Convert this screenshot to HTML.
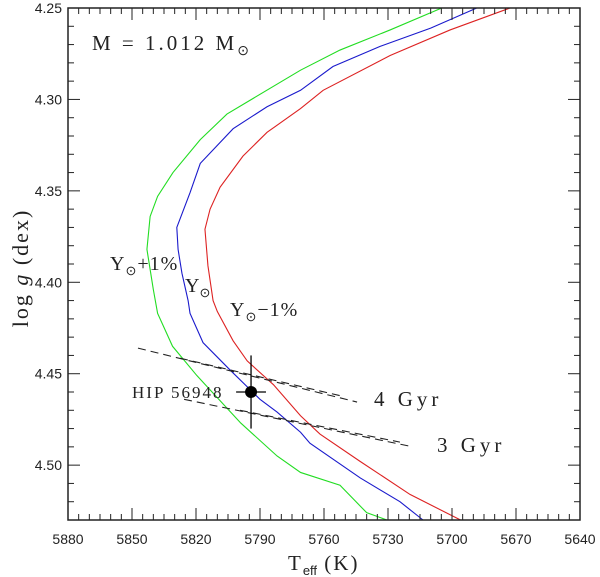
<!DOCTYPE html>
<html><head><meta charset="utf-8"><style>
body{margin:0;background:#fff}
svg{display:block}
.tk{font-family:"Liberation Sans",sans-serif;font-size:14px;fill:#222}
.sr{font-family:"Liberation Serif",serif;fill:#222}
</style></head><body>
<svg id="chart" width="600" height="577" viewBox="0 0 600 577" xmlns="http://www.w3.org/2000/svg">
<g id="curves"></g>
<g id="iso"></g>
<g id="axes"></g>
<text class="sr" x="92" y="50" font-size="21" letter-spacing="3">M = 1.012 M<tspan font-size="14" dy="5">⊙</tspan></text>
<text class="sr" x="110" y="270" font-size="20" letter-spacing="1">Y<tspan font-size="13" dy="5">⊙</tspan><tspan dy="-5">+1%</tspan></text>
<text class="sr" x="185" y="292" font-size="20">Y<tspan font-size="13" dy="5">⊙</tspan></text>
<text class="sr" x="230" y="316" font-size="20" letter-spacing="1">Y<tspan font-size="13" dy="5">⊙</tspan><tspan dy="-5">−1%</tspan></text>
<text class="sr" x="132" y="398" font-size="17" letter-spacing="2">HIP 56948</text>
<text class="sr" x="374" y="406" font-size="21" letter-spacing="4">4 Gyr</text>
<text class="sr" x="437" y="452" font-size="21" letter-spacing="4">3 Gyr</text>
<text class="sr" x="288" y="570" font-size="21" letter-spacing="2">T<tspan font-size="13" dy="5" font-family="Liberation Sans" letter-spacing="0">eff</tspan><tspan dy="-5"> (K)</tspan></text>
<text class="sr" transform="translate(28,268) rotate(-90)" text-anchor="middle" font-size="22" letter-spacing="2">log <tspan font-style="italic">g</tspan> (dex)</text>
</svg>
<script>
const xTicks=[5880,5850,5820,5790,5760,5730,5700,5670,5640];
const yTicks=[4.25,4.30,4.35,4.40,4.45,4.50];
const yTickLabels=["4.25","4.30","4.35","4.40","4.45","4.50"];
const greenT=[5704.8,5729,5752.5,5771,5805.5,5818,5830.8,5838,5841.5,5843,5840,5838,5831,5819.6,5799,5782,5771,5752.5,5740,5730.5];
const greenG=[4.25,4.262,4.273,4.284,4.308,4.322,4.340,4.353,4.364,4.382,4.404,4.417,4.435,4.451,4.477,4.495,4.504,4.511,4.526,4.53];
const blueT=[5688.4,5710,5733.7,5755.8,5771,5786.7,5802.6,5818,5822.8,5829,5828.4,5826.6,5823.7,5822.8,5816.7,5804,5790,5782,5771,5766.6,5743,5724.4,5713.6];
const blueG=[4.25,4.261,4.271,4.282,4.295,4.304,4.316,4.335,4.351,4.370,4.382,4.395,4.410,4.417,4.433,4.448,4.464,4.471,4.482,4.488,4.507,4.52,4.53];
const redT=[5672.8,5700.9,5729,5760.4,5771,5786.7,5798,5808.7,5813.4,5815.8,5814.4,5812,5810,5802.6,5796,5783.7,5771,5761.9,5743,5719.7,5696];
const redG=[4.25,4.262,4.276,4.295,4.305,4.318,4.331,4.348,4.360,4.371,4.391,4.41,4.416,4.432,4.443,4.456,4.473,4.483,4.498,4.516,4.53];
const isoT1=[5847.2,5827.5,5825.6,5799.4];
const isoG1=[4.436,4.4415,4.464,4.470];
const isoT2=[5744.5,5752.5,5718.3,5724.4];
const isoG2=[4.4655,4.462,4.490,4.4874];
const starT=[5794.2], starG=[4.46], starErrT=[7], starErrG=[0.02];
const L=68,R=580,T=8,B=520,X0=5880,X1=5640,Y0=4.25,Y1=4.53;
const xs=v=>L+(X0-v)/(X0-X1)*(R-L);
const ys=v=>T+(v-Y0)/(Y1-Y0)*(B-T);
const NS="http://www.w3.org/2000/svg";
function mk(tag,at,parent){const e=document.createElementNS(NS,tag);for(const k in at)e.setAttribute(k,at[k]);parent.appendChild(e);return e;}
const ax=document.getElementById('axes');
let fr=mk('rect',{x:L,y:T,width:R-L,height:B-T,fill:'none',stroke:'#222','stroke-width':1.5},ax);


for(let v=5880;v>=5640;v-=5){const x=xs(v);const big=(v%30===0);const len=big?12:6;
 mk('line',{x1:x,x2:x,y1:B,y2:B-len,stroke:'#222','stroke-width':1},ax);
 mk('line',{x1:x,x2:x,y1:T,y2:T+len,stroke:'#222','stroke-width':1},ax);}
for(let i=0;i<=28;i++){const v=4.25+i*0.01;const y=ys(v);const len=(i%5===0)?12:6;
 mk('line',{x1:L,x2:L+len,y1:y,y2:y,stroke:'#222','stroke-width':1},ax);
 mk('line',{x1:R,x2:R-len,y1:y,y2:y,stroke:'#222','stroke-width':1},ax);}
xTicks.forEach(v=>{const t=mk('text',{x:xs(v),y:B+24,'text-anchor':'middle',class:'tk'},ax);t.textContent=String(v);
 
 });
yTicks.forEach((v,i)=>{const t=mk('text',{x:L-6,y:ys(v)+5,'text-anchor':'end',class:'tk'},ax);t.textContent=yTickLabels[i];
 
 });
const cg=document.getElementById('curves');
[[greenT,greenG,'#22dd22','track-y-plus-1'],[blueT,blueG,'#1a1acc','track-y-sun'],[redT,redG,'#dd2222','track-y-minus-1']].forEach(([a,b,c,n])=>{
 const p=mk('polyline',{points:a.map((t,i)=>xs(t)+','+ys(b[i])).join(' '),fill:'none',stroke:c,'stroke-width':1.1},cg);
 
 });
const ig=document.getElementById('iso');
isoT1.forEach((t,i)=>{const l=mk('line',{x1:xs(t),y1:ys(isoG1[i]),x2:xs(isoT2[i]),y2:ys(isoG2[i]),stroke:'#222','stroke-width':1.1,'stroke-dasharray':'8,5'},ig);
 
 });
const sv=document.getElementById('chart');
starT.forEach((t,i)=>{const g=mk('g',{},sv);
 
 
 mk('line',{x1:xs(t),x2:xs(t),y1:ys(starG[i]-starErrG[i]),y2:ys(starG[i]+starErrG[i]),stroke:'#000','stroke-width':1.3},g);
 mk('line',{x1:xs(t-starErrT[i]),x2:xs(t+starErrT[i]),y1:ys(starG[i]),y2:ys(starG[i]),stroke:'#000','stroke-width':1.3},g);
 mk('circle',{cx:xs(t),cy:ys(starG[i]),r:6,fill:'#000'},g);});
</script>
</body></html>
